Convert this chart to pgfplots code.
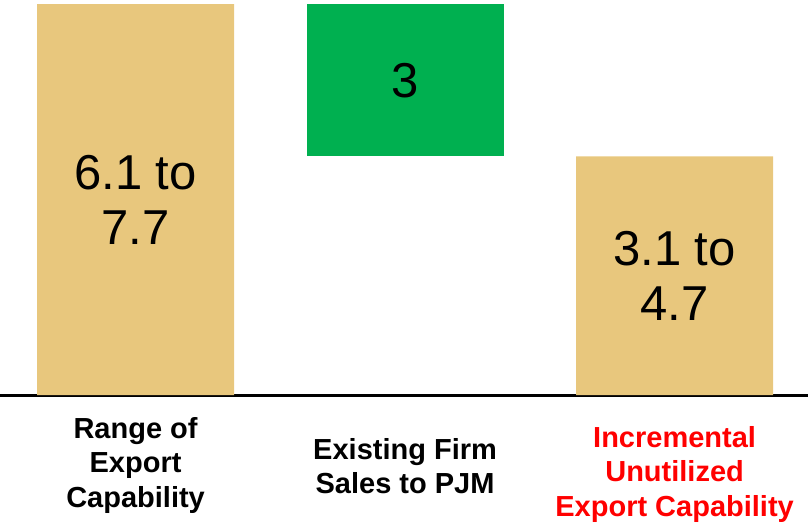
\documentclass[border=0pt]{standalone}
\usepackage{fontspec}
\setmainfont{Liberation Sans}
\usepackage{pgfplots}
\pgfplotsset{compat=1.18}
\definecolor{tanbar}{HTML}{E8C77D}
\definecolor{greenbar}{HTML}{00B050}
\definecolor{redlabel}{HTML}{FF0000}
\tikzset{
  barlabel/.style={font=\fontsize{24.5}{27.5}\selectfont, align=center},
  catlabel/.style={font=\fontsize{14.5}{17.25}\selectfont\bfseries, align=center},
}

\begin{document}
\begin{tikzpicture}
\begin{axis}[
  ybar stacked,
  width=404pt, height=197.5pt,
  scale only axis,
  bar width=98.5pt,
  xmin=-0.503, xmax=2.495,
  ymin=0, ymax=7.78,
  hide axis,
  clip=false,
]
% invisible base of the floating bar
\addplot[fill=white, draw=none, opacity=0] coordinates {(0,0) (1,4.7) (2,0)};
% range bars
\addplot[fill=tanbar, draw=none] coordinates {(0,7.7) (1,0) (2,4.7)};
% existing firm sales
\addplot[fill=greenbar, draw=none] coordinates {(0,0) (1,3) (2,0)};

\draw[line width=1.5pt] (rel axis cs:0,0) -- (rel axis cs:1,0);
\path (rel axis cs:0,1) coordinate (tl);
\path (rel axis cs:1,0) coordinate (br);

\coordinate (v0) at (axis cs:0,3.85);
\coordinate (v1) at (axis cs:1,6.2);
\coordinate (v2) at (axis cs:2,2.35);
\coordinate (c0) at (axis cs:0,0);
\coordinate (c1) at (axis cs:1,0);
\coordinate (c2) at (axis cs:2,0);
\end{axis}

\node[barlabel] at (v0) {6.1 to\\7.7};
\node[barlabel] at (v1) {3};
\node[barlabel] at (v2) {3.1 to\\4.7};

\node[catlabel] at ([yshift=-35pt]c0) {Range of\\Export\\Capability};
\node[catlabel] at ([yshift=-35.5pt]c1) {Existing Firm\\Sales to PJM};
\node[catlabel, text=redlabel] at ([yshift=-39.5pt]c2) {Incremental\\Unutilized\\Export Capability};

% fix the page to the reference proportions
\pgfresetboundingbox
\path (tl) rectangle ([yshift=-66pt]br);
\end{tikzpicture}
\end{document}
